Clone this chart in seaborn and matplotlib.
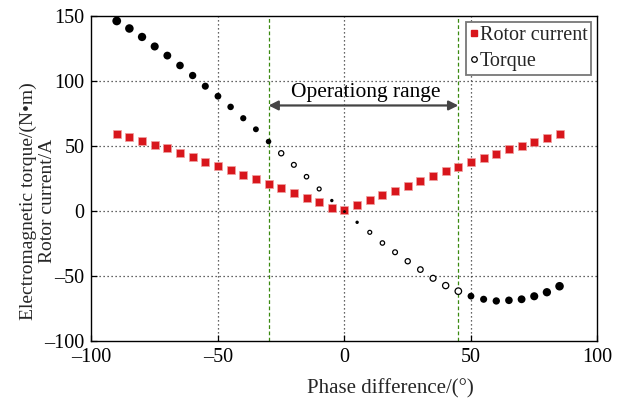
import numpy as np
import pandas as pd
import matplotlib
matplotlib.use("Agg")
import matplotlib.pyplot as plt
from matplotlib.lines import Line2D
from matplotlib.ticker import FuncFormatter
import seaborn as sns

phase = [-90, -85, -80, -75, -70, -65, -60, -55, -50, -45, -40, -35, -30, -25,
         -20, -15, -10, -5, 0, 5, 10, 15, 20, 25, 30, 35, 40, 45, 50, 55, 60,
         65, 70, 75, 80, 85]
torque = [145.9, 140.1, 133.6, 126.3, 119.3, 111.7, 104.0, 95.8, 88.1, 79.9,
          71.2, 62.7, 53.3, 44.3, 35.4, 26.3, 16.9, 8.0, -0.5, -8.7, -16.4,
          -24.6, -31.7, -38.6, -45.0, -51.7, -57.3, -61.6, -65.4, -67.8, -69.1,
          -68.6, -67.8, -65.5, -62.4, -57.8]
current = [59.4, 56.8, 54.1, 50.5, 48.2, 44.8, 41.5, 37.9, 34.9, 31.5, 27.9,
           24.6, 20.7, 17.3, 13.7, 10.2, 6.7, 2.6, 1.0, 4.4, 8.2, 12.1, 15.6,
           19.2, 22.8, 26.9, 30.3, 33.8, 37.3, 40.6, 43.8, 47.2, 50.2, 53.3,
           56.1, 58.9]
range_lo, range_hi = -30, 45
x_ticks = [-100, -50, 0, 50, 100]
y_ticks = [-100, -50, 0, 50, 100, 150]

sns.set_theme(style="white")
plt.rcParams['font.family'] = ['Liberation Serif', 'DejaVu Serif']

df = pd.DataFrame({"phase": phase, "torque": torque, "current": current})
df["absx"] = df["phase"].abs()
open_mask = (df["phase"] >= -25) & (df["phase"] <= 45) & (df["phase"].abs() > 5)

fig = plt.figure(figsize=(6.22, 4.0), dpi=100)
ax = fig.add_axes([0.147, 0.147, 0.8136, 0.814])

# grid
for v in [-50, 0, 50]:
    ax.axvline(v, color="#333333", lw=0.9, ls=(0, (1, 2.2)), zorder=0)
for v in [-50, 0, 50, 100]:
    ax.axhline(v, color="#333333", lw=0.9, ls=(0, (1, 2.2)), zorder=0)
for v in [range_lo, range_hi]:
    ax.axvline(v, color="#3a8a10", lw=0.9, ls=(0, (3, 2)), zorder=1)

# rotor current
sns.scatterplot(data=df, x="phase", y="current", marker="s", s=34,
                color="#d8161c", edgecolor="#f0a0a0", linewidth=0.5,
                ax=ax, legend=False, zorder=3)

# torque: filled and open markers with size growing with |phase|
sns.scatterplot(data=df[~open_mask], x="phase", y="torque", size="absx",
                sizes=(4, 40), size_norm=(0, 90), color="black",
                edgecolor="black", linewidth=0, ax=ax, legend=False, zorder=4)
sns.scatterplot(data=df[open_mask], x="phase", y="torque", size="absx",
                sizes=(4, 40), size_norm=(0, 90), color="white",
                edgecolor="black", linewidth=0.9, ax=ax, legend=False, zorder=4)

# operating range annotation
ax.annotate("", xy=(range_lo, 81), xytext=(range_hi, 81),
            arrowprops=dict(arrowstyle="<|-|>", color="#444444", lw=1.6,
                            mutation_scale=14, shrinkA=0, shrinkB=0), zorder=5)
ax.text((range_lo + range_hi) / 2 + 1.0, 84, "Operationg range", ha="center",
        va="bottom", fontsize=15.5, color="black", zorder=5)

ax.set_xlim(-100, 100)
ax.set_ylim(-100, 150)
ax.set_xticks(x_ticks)
ax.set_yticks(y_ticks)
fmt = FuncFormatter(lambda v, p: f"{v:g}".replace("-", "\u2013"))
ax.xaxis.set_major_formatter(fmt)
ax.yaxis.set_major_formatter(fmt)
ax.tick_params(direction="in", length=4, width=0.9, labelsize=14.5,
               colors="black", top=False, right=False, left=True, bottom=True,
               pad=5)
ax.set_xlabel("Phase difference/(°)", fontsize=15)
ax.xaxis.set_label_coords(0.59, -0.115)
ax.set_ylabel("Electromagnetic torque/(N•m)\nRotor current/A", fontsize=14,
              linespacing=1.12)
ax.yaxis.set_label_coords(-0.07, 0.43)
for s in ax.spines.values():
    s.set_visible(True)
    s.set_color("black")
    s.set_linewidth(1.0)

handles = [
    Line2D([], [], marker="s", ls="none", color="#d8161c", markersize=5),
    Line2D([], [], marker="o", ls="none", markerfacecolor="white",
           markeredgecolor="black", markersize=4, markeredgewidth=0.9),
]
leg = ax.legend(handles, ["Rotor current", "Torque"], loc="upper right",
                fontsize=14.5, frameon=True, fancybox=False, framealpha=1,
                edgecolor="#777777", handlelength=0.4, handletextpad=0.1,
                borderpad=0.2, labelspacing=0.35, borderaxespad=0.3)
leg.get_frame().set_linewidth(1.3)

fig.savefig("out.png", dpi=100)
